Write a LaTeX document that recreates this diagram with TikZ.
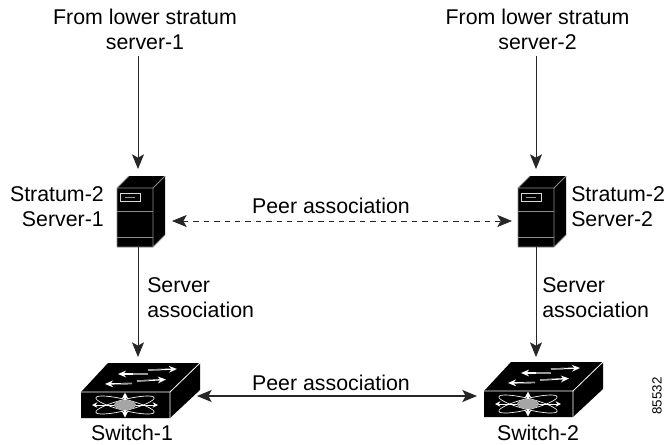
\documentclass[tikz,border=0pt]{standalone}
\usepackage{fontspec}
\setmainfont{Liberation Sans}
\usetikzlibrary{arrows.meta, positioning}

\tikzset{
    lbl/.style={font=\fontsize{16}{18.75}\selectfont, inner sep=0pt, align=center},
    lblleft/.style={lbl, align=left, anchor=north west},
    iconbox/.style={rectangle, inner sep=0pt, outer sep=0pt},
    >={Stealth[length=11pt, width=9pt, inset=2.5pt]},
    link/.style={->, line width=0.7pt, black!85},
    peerlink/.style={<->, line width=0.8pt, black!85},
    pics/serverpic/.style={code={
        \fill[black] (0,0) -- (12,-12) -- (48,-12) -- (48,47) -- (36,59) -- (0,59) -- cycle;
        \draw[black!45, line width=0.6pt] (0,59) -- (0,0) -- (12,-12) (0,0) -- (36,0) -- (48,-12) (36,0) -- (36,59) -- (0,59) (36,59) -- (48,47);
        \draw[black!45, line width=0.6pt] (0,23) -- (36,23) (0,49.5) -- (36,49.5);
        \draw[white!85!black, line width=0.6pt] (3,5.5) rectangle (23,13);
        \draw[black!40, line width=1pt] (8,9.3) -- (18,9.3);
    }},
    pics/switchpic/.style={code={
        \fill[black] (0,0) -- (27,-29) -- (119,-29) -- (119,-2) -- (89,26) -- (0,26) -- cycle;
        \draw[white, line width=0.6pt] (0,0) -- (89,0) -- (119,-29) (89,0) -- (89,26);
        % arrows on the top face
        \draw[-{Stealth[length=6pt, width=5pt]}, white, line width=1pt] (67,-18) -- (37,-18);
        \draw[-{Stealth[length=6pt, width=5pt]}, white, line width=1pt] (67,-22) -- (96,-23);
        \draw[-{Stealth[length=6pt, width=5pt]}, white, line width=1pt] (51,-8.5) -- (24,-8);
        \draw[-{Stealth[length=6pt, width=5pt]}, white, line width=1pt] (56,-11) -- (85,-12.5);
        \draw[black!40, line width=1pt] (67,-18) -- (52,-18);
        \draw[black!40, line width=1pt] (67,-22) -- (80,-22.5);
        \draw[black!40, line width=1pt] (51,-8.5) -- (40,-8.3);
        \draw[black!40, line width=1pt] (56,-11) -- (68,-11.6);
        % star on the front face
        \draw[white, line width=0.5pt, rotate around={14:(44,13)}] (44,13) ellipse [x radius=30, y radius=5.5];
        \draw[white, line width=0.5pt, rotate around={-14:(44,13)}] (44,13) ellipse [x radius=30, y radius=5.5];
        \draw[{Stealth[length=4pt, width=4pt]}-{Stealth[length=4pt, width=4pt]}, white, line width=0.7pt] (11,13) -- (77,13);
        \draw[{Stealth[length=5pt, width=5pt]}-{Stealth[length=5pt, width=5pt]}, white, line width=1.2pt] (44,0.5) -- (44,25.5);
        \fill[black!35] (44,13) ellipse [x radius=11, y radius=5];
    }},
}

\begin{document}
\begin{tikzpicture}[x=0.75pt, y=-0.75pt]
    \useasboundingbox (0,0) rectangle (665,444);

    % servers
    \pic at (117,188) {serverpic};
    \pic at (518,188) {serverpic};
    \node[iconbox, minimum width=51pt, minimum height=58.5pt] (srvA) at (138,208) {};
    \node[iconbox, minimum width=36pt, minimum height=58.5pt] (srvB) at (536,208) {};

    % switches
    \pic at (81,392) {switchpic};
    \pic at (484,391) {switchpic};
    \node[iconbox, minimum width=88.5pt, minimum height=48pt] (swA) at (138,389) {};
    \node[iconbox, minimum width=88.5pt, minimum height=48pt] (swB) at (536,389) {};

    % labels
    \node[lbl] (fromA) at (145,29.5) {From lower stratum\\server-1};
    \node[lbl] (fromB) at (537.5,29.5) {From lower stratum\\server-2};
    \node[lbl, anchor=east, align=right] (nameA) at (104,207) {Stratum-2\\Server-1};
    \node[lbl, anchor=west, align=left] (nameB) at (571,207) {Stratum-2\\Server-2};
    \node[lblleft] (assocA) at (147,277) {Server\\association};
    \node[lblleft] (assocB) at (542,277) {Server\\association};
    \node[lbl] (peerTop) at (331,206) {Peer association};
    \node[lbl] (peerBot) at (331,383) {Peer association};
    \node[lbl] (nameSwA) at (132,432.5) {Switch-1};
    \node[lbl] (nameSwB) at (538,432.5) {Switch-2};
    \node[font=\fontsize{10}{12}\selectfont, rotate=90, inner sep=0pt] (figno) at (657,396) {85532};
    \coordinate (topA) at (138,56);
    \coordinate (topB) at (536,56);

    % connectors
    \draw[link] (topA) -- (srvA.north);
    \draw[link] (topB) -- (srvB.north);
    \draw[link] (srvA.south) -- (swA.north);
    \draw[link] (srvB.south) -- (swB.north);
    \draw[peerlink, line width=0.6pt, dash pattern=on 4pt off 3.8pt] ([yshift=-9.75pt]srvA.east) -- ([yshift=-9.75pt]srvB.west);
    \draw[peerlink] ([yshift=-5.25pt]swA.east) -- ([yshift=-5.25pt]swB.west);
\end{tikzpicture}
\end{document}
